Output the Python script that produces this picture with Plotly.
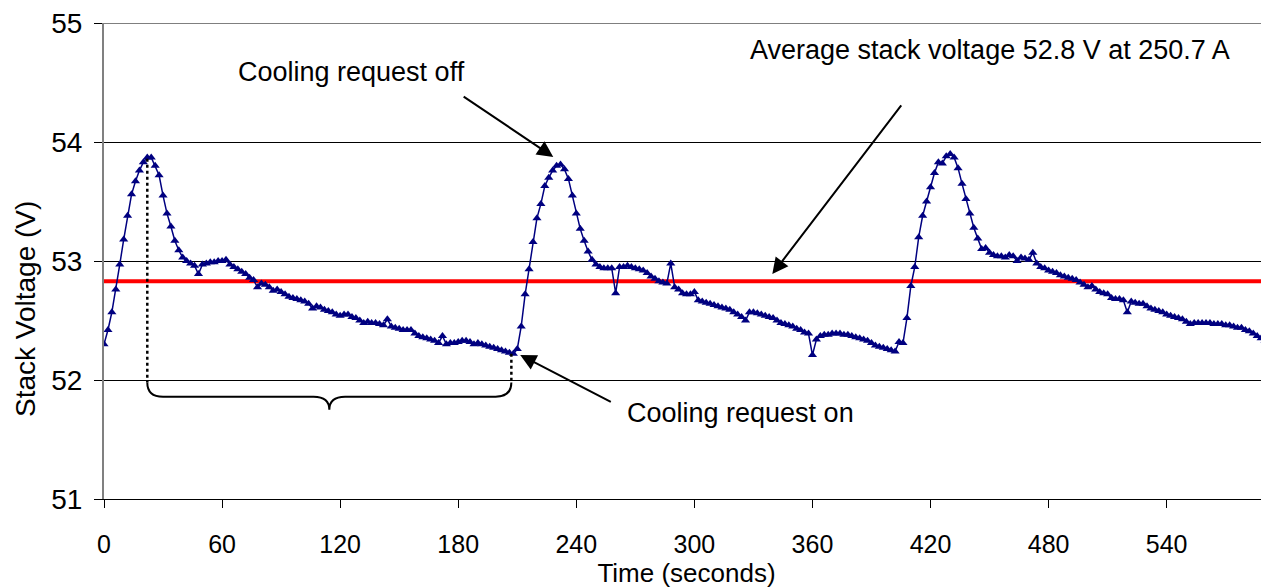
import plotly.graph_objects as go

time_s = list(range(0, 594, 2))
stack_voltage = [
    52.30, 52.42, 52.57, 52.76, 52.97, 53.18, 53.38, 53.56, 53.67, 53.76,
    53.83, 53.87, 53.87, 53.80, 53.72, 53.55, 53.40, 53.29, 53.17, 53.09,
    53.03, 53.00, 52.98, 52.96, 52.89, 52.97, 52.98, 52.99, 52.99, 53.00,
    53.00, 53.01, 52.97, 52.95, 52.93, 52.91, 52.89, 52.86, 52.84, 52.78,
    52.81, 52.80, 52.78, 52.75, 52.76, 52.74, 52.72, 52.70, 52.69, 52.68,
    52.67, 52.66, 52.64, 52.60, 52.62, 52.61, 52.59, 52.58, 52.57, 52.55,
    52.54, 52.55, 52.55, 52.53, 52.52, 52.50, 52.48, 52.49, 52.48, 52.48,
    52.47, 52.46, 52.51, 52.45, 52.44, 52.43, 52.42, 52.42, 52.42, 52.39,
    52.37, 52.36, 52.35, 52.34, 52.33, 52.31, 52.37, 52.30, 52.31, 52.31,
    52.32, 52.33, 52.33, 52.32, 52.30, 52.31, 52.30, 52.29, 52.28, 52.27,
    52.26, 52.25, 52.24, 52.23, 52.22, 52.26, 52.45, 52.72, 52.93, 53.16,
    53.36, 53.48, 53.63, 53.70, 53.76, 53.80, 53.81, 53.77, 53.69, 53.55,
    53.40, 53.27, 53.17, 53.08, 53.01, 52.97, 52.95, 52.94, 52.94, 52.94,
    52.73, 52.95, 52.95, 52.96, 52.95, 52.94, 52.93, 52.92, 52.90, 52.87,
    52.85, 52.83, 52.82, 52.81, 52.98, 52.78, 52.76, 52.73, 52.72, 52.72,
    52.74, 52.67, 52.66, 52.65, 52.64, 52.63, 52.62, 52.61, 52.60, 52.59,
    52.57, 52.55, 52.53, 52.50, 52.57, 52.57, 52.56, 52.55, 52.54, 52.53,
    52.52, 52.50, 52.48, 52.47, 52.46, 52.45, 52.43, 52.42, 52.40, 52.39,
    52.21, 52.34, 52.37, 52.38, 52.38, 52.39, 52.39, 52.39, 52.38, 52.38,
    52.37, 52.36, 52.35, 52.34, 52.33, 52.31, 52.29, 52.28, 52.27, 52.26,
    52.25, 52.24, 52.32, 52.31, 52.52, 52.79, 52.95, 53.20, 53.38, 53.50,
    53.62, 53.74, 53.83, 53.82, 53.88, 53.90, 53.87, 53.78, 53.65, 53.52,
    53.40, 53.28, 53.19, 53.10, 53.11, 53.07, 53.05, 53.04, 53.04, 53.03,
    53.05, 53.04, 53.00, 53.03, 53.02, 53.01, 53.07, 52.98, 52.95, 52.94,
    52.92, 52.91, 52.90, 52.88, 52.87, 52.86, 52.85, 52.84, 52.82, 52.80,
    52.78, 52.79, 52.76, 52.74, 52.73, 52.72, 52.69, 52.68, 52.68, 52.67,
    52.57, 52.66, 52.65, 52.64, 52.64, 52.62, 52.60, 52.59, 52.58, 52.57,
    52.55, 52.54, 52.53, 52.52, 52.51, 52.49, 52.47, 52.48, 52.48, 52.48,
    52.48, 52.48, 52.47, 52.47, 52.47, 52.46, 52.46, 52.45, 52.44, 52.44,
    52.42, 52.41, 52.39, 52.37, 52.35, 52.33, 52.27,
]

average_voltage = 52.83
x_range = [0, 592]
y_range = [51, 55]
x_ticks = [0, 60, 120, 180, 240, 300, 360, 420, 480, 540]
y_ticks = [51, 52, 53, 54, 55]

# cooling cycle markers (seconds)
cool_off_t = 22
cool_on_t = 207
peak_v = 53.86
brace_top = 51.98
brace_mid = 51.86
brace_tip = 51.75

FONT = "Liberation Sans, Arial, sans-serif"

fig = go.Figure()

fig.add_trace(go.Scatter(
    x=x_range, y=[average_voltage, average_voltage], mode="lines",
    line=dict(color="#ff0000", width=4), hoverinfo="skip", showlegend=False,
))

fig.add_trace(go.Scatter(
    x=time_s, y=stack_voltage, mode="lines+markers",
    line=dict(color="#000080", width=1.5),
    marker=dict(symbol="triangle-up", size=8, color="#000080"),
    showlegend=False,
))

# top gridline (55 V)
fig.add_shape(type="line", xref="paper", yref="y", x0=0, x1=1, y0=55, y1=55,
              line=dict(color="black", width=1))

# dotted verticals
fig.add_shape(type="line", xref="x", yref="y", x0=cool_off_t, x1=cool_off_t,
              y0=peak_v, y1=brace_top, line=dict(color="black", width=2.5, dash="dot"))
fig.add_shape(type="line", xref="x", yref="y", x0=cool_on_t, x1=cool_on_t,
              y0=52.22, y1=brace_top, line=dict(color="black", width=2.5, dash="dot"))

# curly brace
mid_t = (cool_off_t + cool_on_t) / 2
c = 8
brace_path = (
    f"M {cool_off_t},{brace_top} Q {cool_off_t},{brace_mid} {cool_off_t + c},{brace_mid} "
    f"L {mid_t - c},{brace_mid} Q {mid_t},{brace_mid} {mid_t},{brace_tip} "
    f"Q {mid_t},{brace_mid} {mid_t + c},{brace_mid} "
    f"L {cool_on_t - c},{brace_mid} Q {cool_on_t},{brace_mid} {cool_on_t},{brace_top}"
)
fig.add_shape(type="path", xref="x", yref="y", path=brace_path,
              line=dict(color="black", width=2))

txt = dict(family=FONT, size=27, color="black")

fig.add_annotation(x=450.4, y=54.77, xref="x", yref="y", showarrow=False,
                   text="Average stack voltage 52.8 V at 250.7 A", font=txt)
fig.add_annotation(x=126, y=54.59, xref="x", yref="y", showarrow=False,
                   text="Cooling request off", font=txt)
fig.add_annotation(x=323.3, y=51.725, xref="x", yref="y", showarrow=False,
                   text="Cooling request on", font=txt)

# y-axis title placed as rotated text (sits below the axis centre in the original)
fig.add_annotation(x=-0.0675, y=52.6, xref="paper", yref="y", showarrow=False,
                   xanchor="center", yanchor="middle",
                   text="Stack Voltage (V)", textangle=-90,
                   font=dict(family=FONT, size=28, color="black"))

arrow = dict(showarrow=True, arrowhead=2, arrowsize=1.6, arrowwidth=2,
             arrowcolor="black", axref="x", ayref="y", xref="x", yref="y", text="")
fig.add_annotation(x=339.6, y=52.89, ax=405.7, ay=54.32, **arrow)
fig.add_annotation(x=228.3, y=53.875, ax=182, ay=54.39, **arrow)
fig.add_annotation(x=211.5, y=52.21, ax=258.3, ay=51.81, **arrow)

# page body has an 8px margin, so the figure is sized/shifted to compensate
fig.update_layout(
    width=1261, height=580,
    margin=dict(l=96, r=0, t=10, b=89),
    paper_bgcolor="white", plot_bgcolor="white",
    font=dict(family=FONT, size=26, color="black"),
    showlegend=False,
)
fig.update_xaxes(
    range=x_range, tickvals=x_ticks, ticks="outside", ticklen=8, tickcolor="black",
    showgrid=False, showline=True, linecolor="black", linewidth=1, zeroline=False,
    tickfont=dict(family=FONT, size=25), ticklabelstandoff=15,
    title=dict(text="Time (seconds)", font=dict(family=FONT, size=26), standoff=3),
)
fig.update_yaxes(
    range=y_range, tickvals=y_ticks, ticks="outside", ticklen=8, tickcolor="black",
    showgrid=True, gridcolor="black", gridwidth=1, showline=True, linecolor="#808080",
    linewidth=2, zeroline=False, tickfont=dict(family=FONT, size=28), ticklabelstandoff=6,
    ticklabeloverflow="allow",
)

fig.write_html("out.html")
